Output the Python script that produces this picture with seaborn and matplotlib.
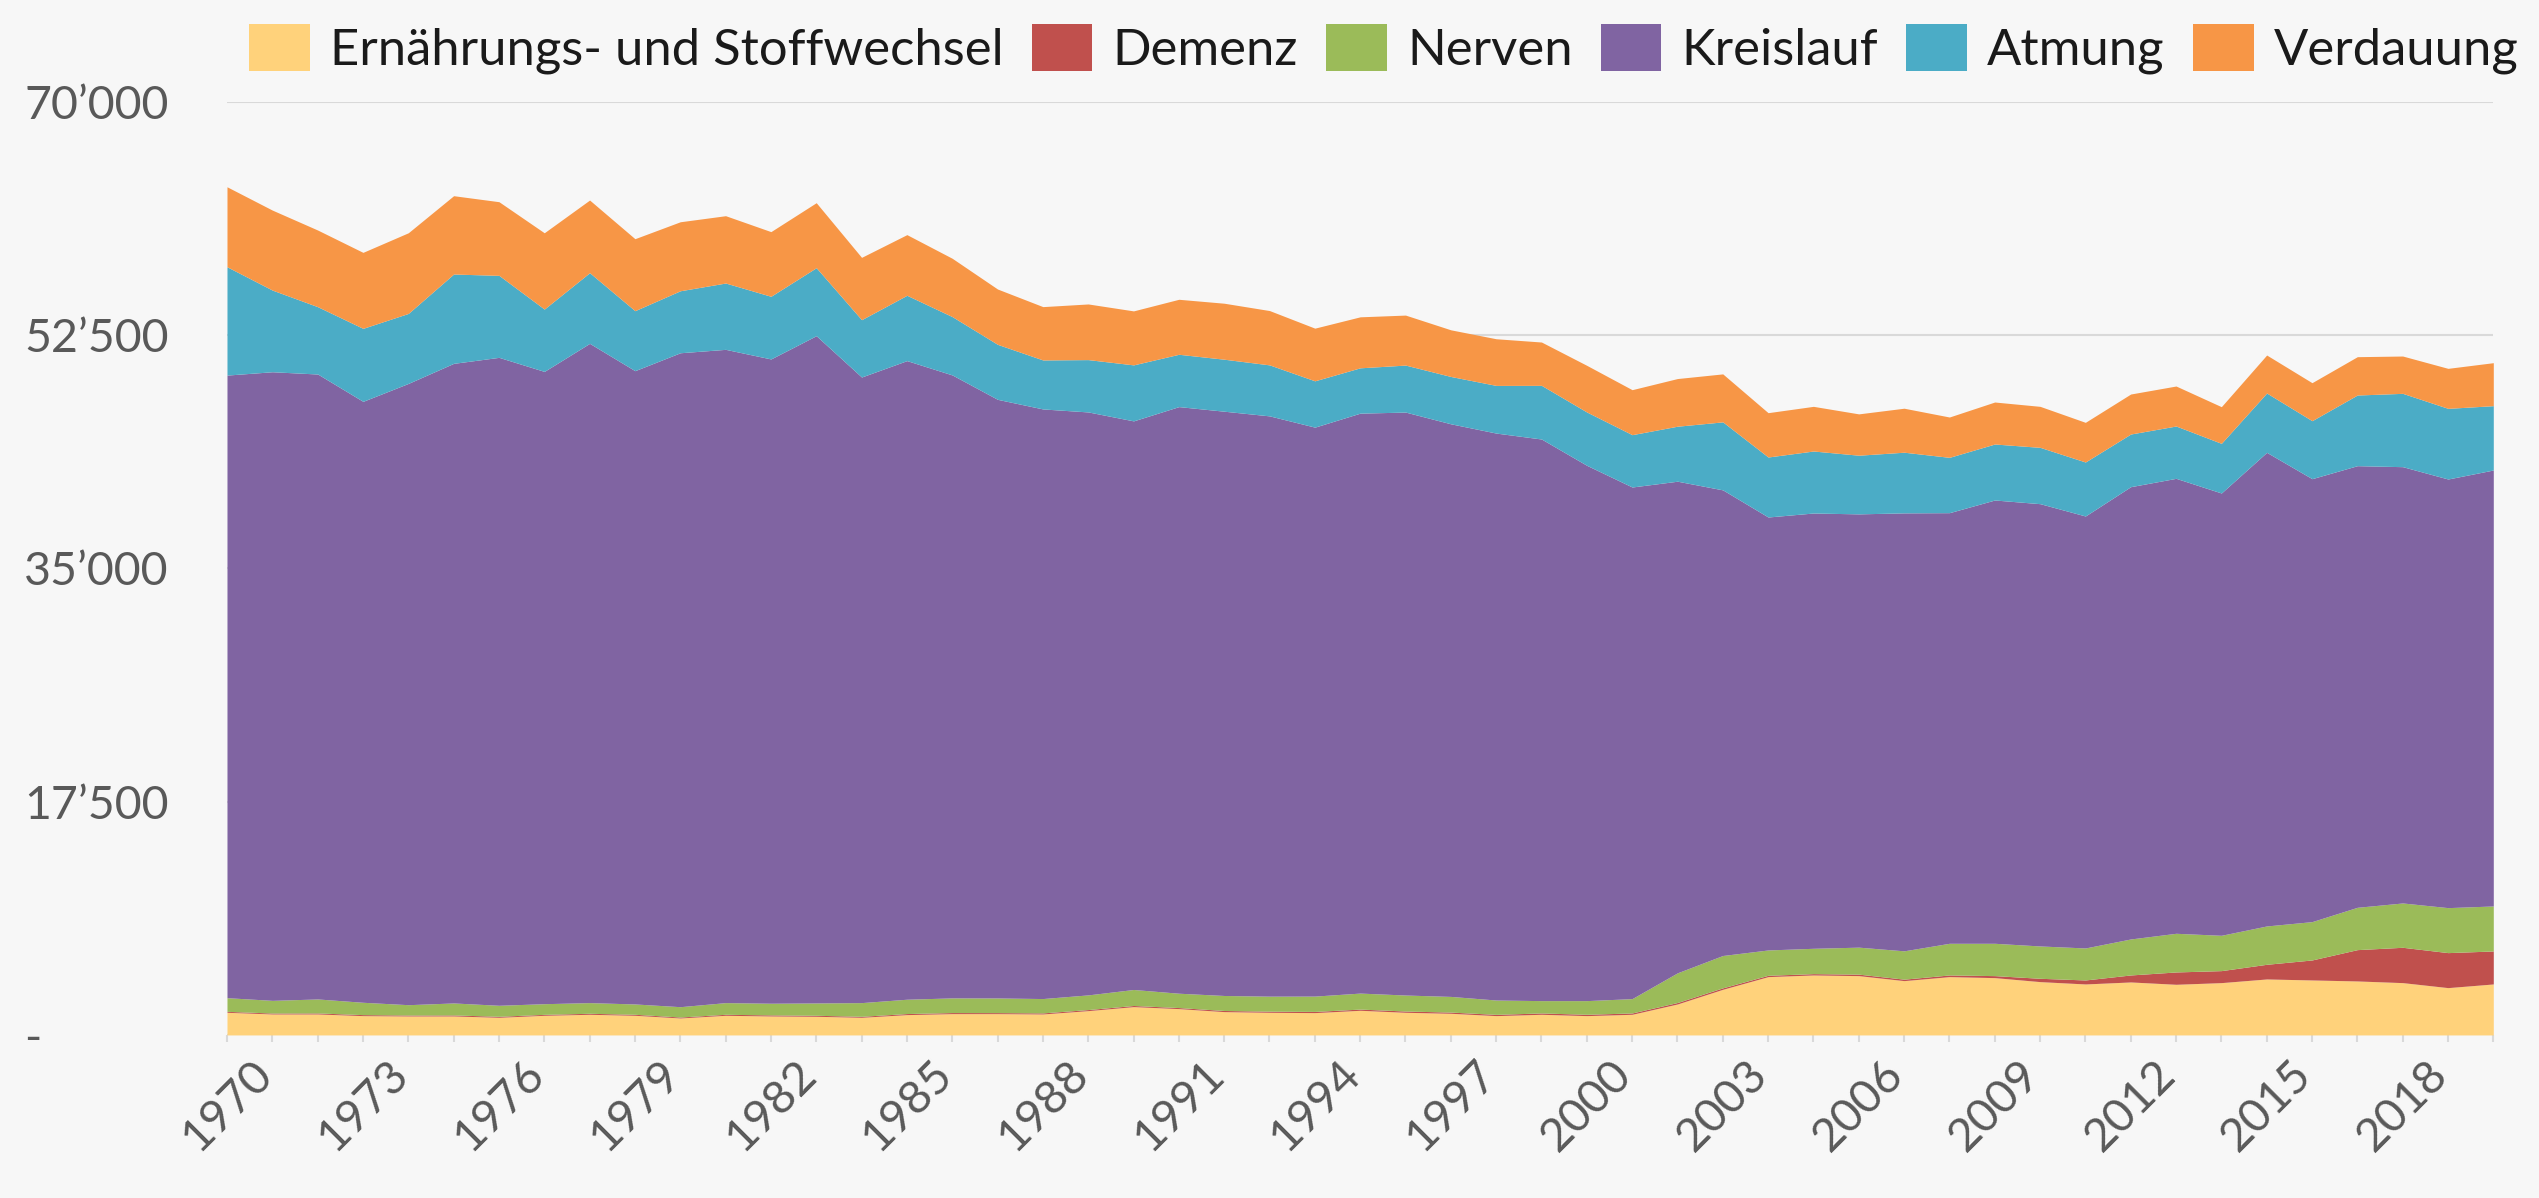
import seaborn as sns
import matplotlib.pyplot as plt
import pandas as pd

years = list(range(1970, 2021))

ernaehrung = [1700, 1575, 1575, 1450, 1425, 1425, 1325, 1475, 1550, 1475,
              1275, 1475, 1425, 1400, 1325, 1525, 1600, 1600, 1575, 1825,
              2125, 1975, 1750, 1700, 1675, 1850, 1700, 1625, 1450, 1550,
              1450, 1550, 2325, 3425, 4375, 4500, 4450, 4075, 4375, 4300,
              4000, 3825, 3975, 3800, 3925, 4200, 4125, 4050, 3925, 3550,
              3825]
demenz = [70, 70, 75, 75, 70, 75, 75, 70, 75, 75,
          70, 75, 80, 75, 75, 80, 80, 75, 80, 80,
          85, 80, 85, 85, 90, 90, 95, 90, 95, 100,
          100, 100, 110, 110, 100, 100, 110, 110, 125, 150,
          250, 300, 525, 925, 900, 1100, 1500, 2350, 2650, 2625,
          2475]
nerven = [1025, 950, 1050, 925, 775, 900, 825, 800, 800, 775,
          775, 875, 875, 925, 1025, 1075, 1100, 1100, 1075, 1100,
          1200, 1075, 1125, 1125, 1150, 1200, 1200, 1175, 1075, 925,
          1025, 1075, 2225, 2425, 1900, 1900, 2025, 2125, 2375, 2425,
          2425, 2400, 2700, 2900, 2650, 2875, 2875, 3175, 3325, 3375,
          3375]
kreislauf = [46700, 47150, 46875, 45075, 46600, 47975, 48600, 47425, 49450, 47500,
             49050, 49000, 48325, 50050, 46925, 47900, 46725, 44900, 44225, 43725,
             42650, 44000, 43825, 43525, 42675, 43500, 43725, 42950, 42525, 42125,
             40150, 38375, 36875, 34925, 32475, 32650, 32500, 32850, 32300, 33250,
             33175, 32400, 33925, 34125, 33175, 35525, 33225, 33125, 32725, 32150,
             32700]
atmung = [8125, 6125, 5050, 5475, 5250, 6700, 6150, 4675, 5300, 4500,
          4650, 4975, 4700, 5100, 4300, 4900, 4375, 4125, 3675, 3925,
          4200, 3925, 3900, 3825, 3475, 3400, 3525, 3550, 3575, 4025,
          4000, 3925, 4125, 5100, 4500, 4650, 4400, 4550, 4150, 4200,
          4225, 4050, 3950, 3925, 3725, 4450, 4350, 5300, 5500, 5300,
          4825]
verdauung = [6000, 6000, 5750, 5700, 6050, 5875, 5525, 5725, 5450, 5400,
             5175, 5050, 4850, 4875, 4675, 4550, 4375, 4150, 4000, 4175,
             4050, 4125, 4200, 4075, 3950, 3825, 3750, 3500, 3500, 3250,
             3500, 3375, 3575, 3600, 3325, 3350, 3100, 3300, 3025, 3150,
             3075, 2975, 3000, 3000, 2750, 2850, 2850, 2875, 2800, 3000,
             3225]

labels = ["Ernährungs- und Stoffwechsel", "Demenz", "Nerven",
          "Kreislauf", "Atmung", "Verdauung"]
colors = ["#FFD27B", "#C0504D", "#9BBB59", "#8064A2", "#4BACC6", "#F79646"]

ytick_values = [0, 17500, 35000, 52500, 70000]
ytick_labels = ["-", "17’500", "35’000", "52’500", "70’000"]
xtick_years = list(range(1970, 2021, 3))

df = pd.DataFrame({"Jahr": years, labels[0]: ernaehrung, labels[1]: demenz,
                   labels[2]: nerven, labels[3]: kreislauf,
                   labels[4]: atmung, labels[5]: verdauung})

sns.set_theme(style="white", rc={"figure.facecolor": "#F7F7F7",
                                 "axes.facecolor": "#F7F7F7"})
plt.rcParams["font.family"] = ["Lato", "DejaVu Sans"]

fig = plt.figure(figsize=(25.39, 11.98), dpi=100)
ax = fig.add_axes([0.0894, 0.1361, 0.8926, 0.779])

ax.stackplot(df["Jahr"], [df[c] for c in labels], colors=colors,
             labels=labels, linewidth=0)

ax.set_xlim(1970, 2020)
ax.set_ylim(0, 70000)
for s in ax.spines.values():
    s.set_visible(False)

ax.yaxis.grid(True, color="#D9D9D9", linewidth=1.5)
ax.set_axisbelow(True)

ax.set_yticks(ytick_values)
ax.set_yticklabels(ytick_labels)
ax.tick_params(axis="y", length=0, pad=146, labelsize=33.5, labelcolor="#595959")
for t in ax.get_yticklabels():
    t.set_horizontalalignment("left")

ax.set_xticks(xtick_years)
ax.set_xticklabels([str(y) for y in xtick_years], rotation=45)
ax.set_xticks(years, minor=True)
ax.tick_params(axis="x", which="both", direction="out", length=5, width=1.5,
               color="#D9D9D9", bottom=True)
ax.tick_params(axis="x", which="major", labelsize=33.5, labelcolor="#595959", pad=8)

fig.legend(*ax.get_legend_handles_labels(), loc="upper center",
           bbox_to_anchor=(0.545, 1.018), ncol=6, frameon=False,
           fontsize=36.5, handlelength=1.2, handleheight=1.05,
           handletextpad=0.4, columnspacing=0.55, labelcolor="#1A1A1A")

fig.savefig("out.png", dpi=100, facecolor=fig.get_facecolor())
